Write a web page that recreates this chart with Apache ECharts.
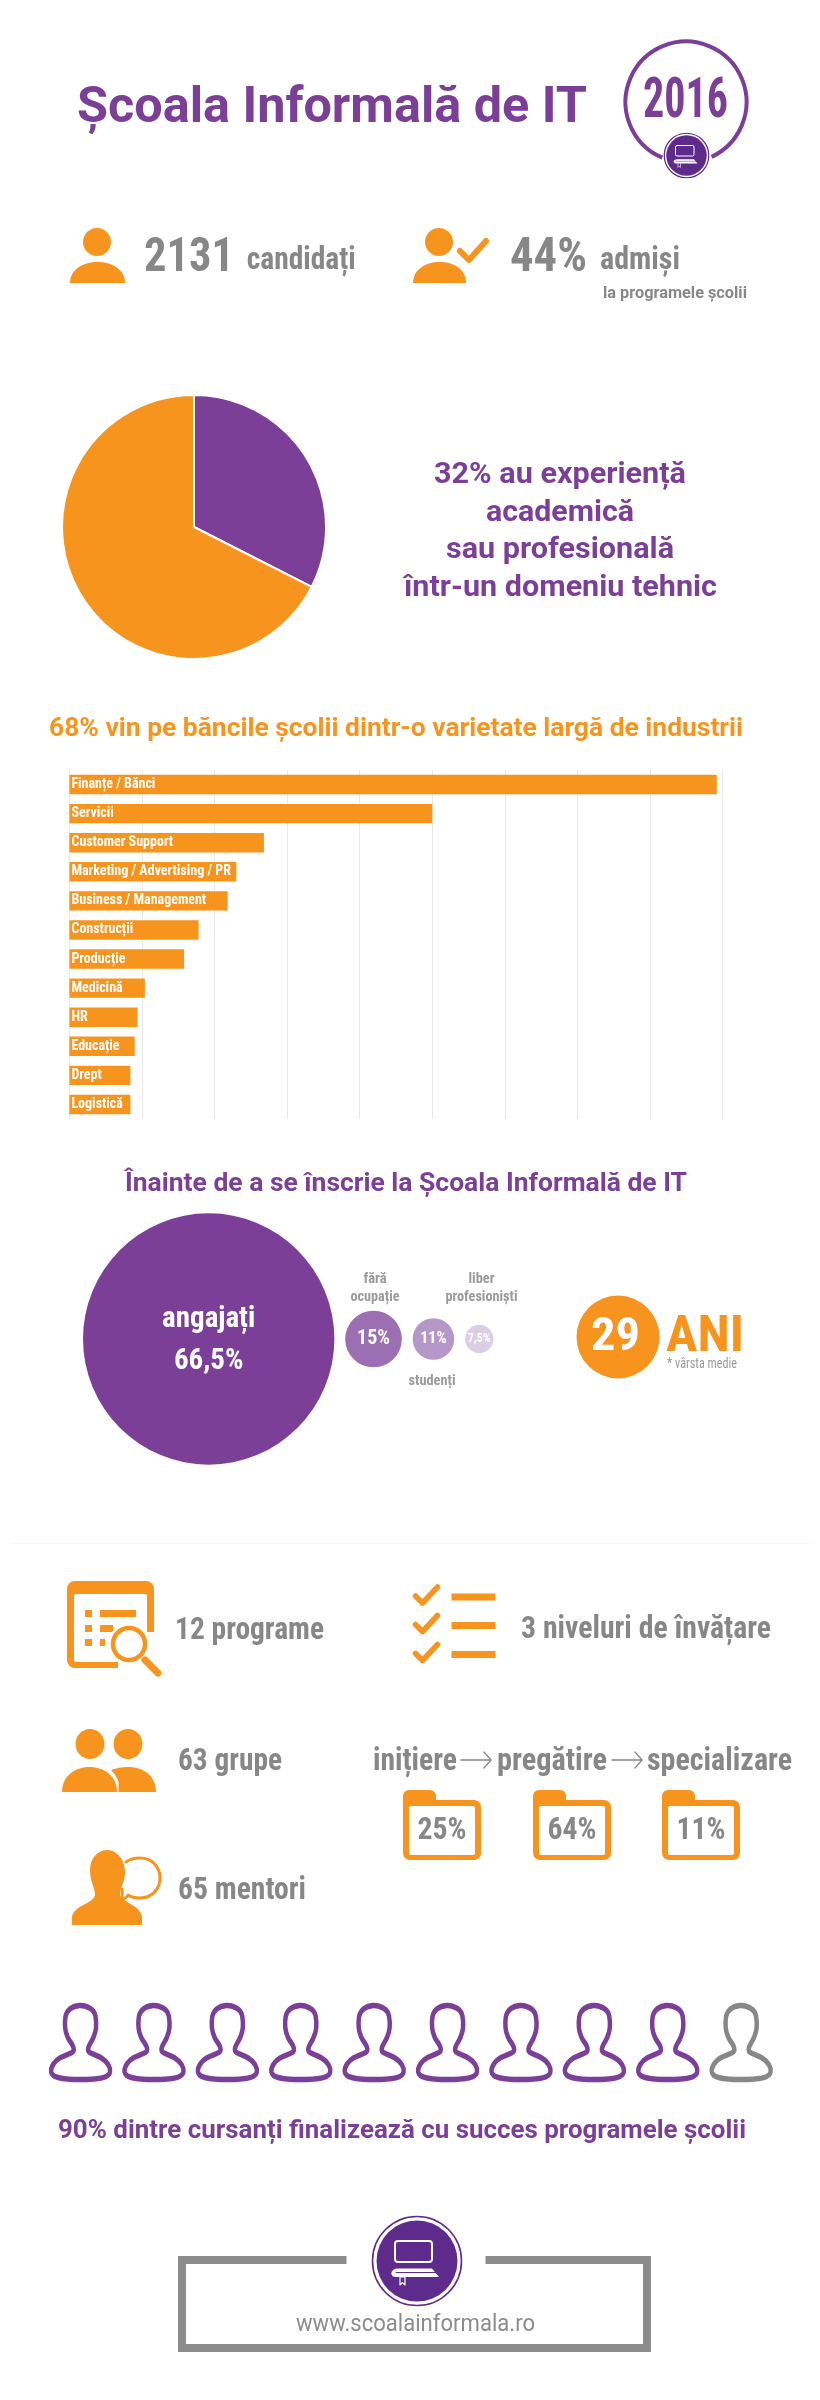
<!DOCTYPE html><html><head><meta charset="utf-8"></head><body style="margin:0;background:#fff"><div id="c" style="width:820px;height:2400px"></div>
<script src="https://cdn.jsdelivr.net/npm/echarts@6/dist/echarts.min.js"></script>
<script>
// ---- data ----
const pieNames = ['experiență tehnică', 'alte industrii'];
const pieValues = [32.5, 67.5];
const industries = ['Finanțe / Bănci','Servicii','Customer Support','Marketing / Advertising / PR','Business / Management','Construcții','Producție','Medicină','HR','Educație','Drept','Logistică'];
const industryValues = [446,250,134,115,109,89,79,52,47,45,42,42];
const statusLabels = ['angajați\n66,5%','15%','11%','7,5%'];
const statusValues = [66.5,15,11,7.5];
const finished = [1,1,1,1,1,1,1,1,1,0];
const stageNames = ['inițiere','pregătire','specializare'];
const stageShares = ['25%','64%','11%'];

// ---- style ----
const ORANGE='#f7941e', PURPLE='#7b3f98', DARK='#5e2a8c', GRAY='#878787', LIGHT='#9a9a9a';
const PERSON='path://M118 47C135 45 165 55 168 78C172 100 172 120 163 140C158 155 146 165 146 178C146 190 165 192 185 203C205 215 214 232 212 245C210 262 180 268 123 268C65 268 38 262 35 245C33 232 45 212 62 203C82 192 103 190 103 178C103 165 90 155 84 140C75 120 75 100 78 80C82 60 100 48 118 47Z';

// ---- text helper: fits a string into the measured width ----
const ctx=document.createElement('canvas').getContext('2d');
function T(text,x,base,w,size,fill,opt){
  opt=opt||{};
  const weight=opt.weight||'bold';
  let best=null;
  (opt.fams||['Roboto Condensed','Roboto']).forEach(f=>{
    const font=weight+' '+size+'px "'+f+'"';
    ctx.font=font;
    const s=w/ctx.measureText(text).width;
    if(!best||Math.abs(Math.log(s))<Math.abs(Math.log(best.s)))best={s,font};
  });
  const left=opt.center?x-w/2:x;
  return {type:'text',x:left,y:base-0.30*size,scaleX:best.s,style:{text,font:best.font,fill,align:'left',verticalAlign:'middle'}};
}
let shapeId=0;
const P=(d,fill,stroke,lw)=>{
  const name='svgShape'+(shapeId++);
  echarts.graphic.registerShape(name,echarts.graphic.extendPath(d,{}));
  return {type:name,style:{fill:fill||null,stroke:stroke||null,lineWidth:lw||0,lineCap:'round',lineJoin:'round'}};
};
const circle=(cx,cy,r,fill,stroke,lw)=>({type:'circle',shape:{cx,cy,r},style:{fill:fill||null,stroke:stroke||null,lineWidth:lw||0}});
const ell=(cx,cy,rx,ry,fill)=>({type:'ellipse',shape:{cx,cy,rx,ry},style:{fill}});
const rect=(x,y,w,h,fill,r)=>({type:'rect',shape:{x,y,width:w,height:h,r:r||0},style:{fill}});

function logo(cx,cy,s){
  return {type:'group',x:cx,y:cy,scaleX:s,scaleY:s,children:[
    circle(0,0,44.5,'#fff',DARK,s<1?2.4:1.6),
    circle(0,0,40.5,DARK),
    {type:'rect',shape:{x:-22,y:-20,width:37,height:21,r:3},style:{fill:null,stroke:'#fff',lineWidth:2}},
    P('M-19 7.5H15L22 16H-21C-28 16 -27 7.5 -19 7.5Z','#fff'),
    P('M-21 11.5H19',null,DARK,1),
    P('M-17 16V24L-14.5 21.5L-12 24V16Z',DARK,'#fff',1.2),
  ]};
}
const g=[];
// header
g.push(T('Școala Informală de IT',77,124,510,50,PURPLE));
g.push({type:'arc',shape:{cx:686,cy:102,r:60.5,startAngle:113*Math.PI/180,endAngle:425*Math.PI/180,clockwise:true},style:{fill:null,stroke:PURPLE,lineWidth:4}});
g.push(T('2016',643,119.5,85,56,PURPLE));
g.push(logo(686.5,155.5,0.5));
// row 2
g.push(ell(97,242,14,14,ORANGE));
g.push(P('M70 283C70 270 82 262 97.5 262C113 262 125 270 125 283Z',ORANGE));
g.push(T('2131',144,273.3,90,48,GRAY));
g.push(T('candidați',246.7,271,109,31,GRAY));
g.push(ell(439,242,14,14,ORANGE));
g.push(P('M413 283C413 270 425 262 439.5 262C455 262 466 270 466 283Z',ORANGE));
g.push(P('M460 251L469 260L486 241',null,ORANGE,6));
g.push(T('44%',510,273.3,77,48,GRAY));
g.push(T('admiși',600,271,80,31,GRAY));
g.push(T('la programele școlii',603,299,144,17,GRAY));
// pie text
g.push(T('32% au experiență',434,484,252,29,PURPLE));
g.push(T('academică',486,522.5,148,29,PURPLE));
g.push(T('sau profesională',446,559,228,29,PURPLE));
g.push(T('într-un domeniu tehnic',404,597.5,313,29,PURPLE));
// section titles
g.push(T('68% vin pe băncile școlii dintr-o varietate largă de industrii',49,737,694,26,ORANGE));
g.push(T('Înainte de a se înscrie la Școala Informală de IT',125,1192,562,25,PURPLE));
// bubble captions
g.push(T('fără',375,1284,23,15,LIGHT,{center:true}));
g.push(T('ocupație',375,1302,49,15,LIGHT,{center:true}));
g.push(T('liber',481.5,1284,26,15,LIGHT,{center:true}));
g.push(T('profesioniști',481.5,1302,72,15,LIGHT,{center:true}));
g.push(T('studenți',432,1386,47,15,LIGHT,{center:true}));
// age
g.push(circle(618,1337,41.5,ORANGE));
g.push(T('29',591,1352,49,46,'#fff'));
g.push(T('ANI',666,1353,78,50,ORANGE));
g.push(T('* vârsta medie',667,1369,70,14,LIGHT,{weight:'normal'}));
// separator
g.push(rect(10,1543,800,1,'#f7f7f7'));
// programs icon
g.push(rect(67,1581,87,87,ORANGE,8));
g.push(rect(74,1594,73,68,'#fff',2));
[1610,1625,1639].forEach((y,i)=>{
  g.push(rect(85,y,7,7,ORANGE));
  g.push(rect(100,y,[36,13,5][i],7,ORANGE));
});
g.push(rect(118,1632,37,38,'#fff'));
g.push(circle(129,1644,21,'#fff'));
g.push(circle(129,1644,16,'#fff',ORANGE,4.5));
g.push(P('M145 1660L158 1673',null,ORANGE,7));
g.push(T('12 programe',175,1641,149,32,GRAY));
// checklist icon
[0,28.5,57.5].forEach(d=>{
  g.push(P(`M415.5 ${1596+d}L422.5 ${1603+d}L437.5 ${1587+d}`,null,ORANGE,5.5));
  g.push(rect(451.5,1593.5+d,44,7,ORANGE));
});
g.push(T('3 niveluri de învățare',521,1640,250,32,GRAY));
// groups
g.push(ell(90,1744,14.5,15,ORANGE));
g.push(ell(128,1744,14.5,15,ORANGE));
g.push(P('M62 1792C62 1776 75 1767 89.5 1767C104 1767 117 1776 117 1792Z',ORANGE));
g.push(P('M118.5 1792V1782C117 1777 114 1773 111 1770C116 1768 122 1767 128 1767C144 1767 156 1776 156 1792Z',ORANGE));
g.push(T('63 grupe',178,1772,104,32,GRAY));
// stages
[[373,84],[497,110],[647,145]].forEach((p,i)=>g.push(T(stageNames[i],p[0],1772,p[1],32,GRAY)));
[461,612].forEach(x=>{g.push(P(`M${x} 1760H${x+30}M${x+23} 1752L${x+30} 1760L${x+23} 1768`,null,GRAY,1.3));});
[403,533,662].forEach((x,i)=>{
  g.push(rect(x,1790,33,24,ORANGE,6));
  g.push(rect(x,1800,78,60,ORANGE,7));
  g.push(rect(x+6,1806,66,49,'#fff',2));
  g.push(T(stageShares[i],x+39,1841,49,32,GRAY,{center:true}));
});
// mentors
g.push(P('M107 1850C117 1850 125 1860 125 1872C125 1882 120 1888 120 1894C120 1902 142 1905 142 1918V1925H72V1918C72 1905 95 1904 95 1894C95 1888 90 1882 90 1870C90 1858 98 1850 107 1850Z',ORANGE));
g.push(P('M126 1862C130 1859 135 1858 140 1858C152 1858 160 1867 160 1878C160 1889 152 1898 140 1898C135 1898 131 1897 128 1895C127 1898 124 1899 121 1900C123 1897 122 1893 122 1889',null,ORANGE,3));
g.push(T('65 mentori',178,1901,128,32,GRAY));
// closing
g.push(T('90% dintre cursanți finalizează cu succes programele școlii',58,2139,688,25,PURPLE));
const frame=P('M346.5 2260H182V2348H647V2260H485.5',null,'#8c8c8c',8);
frame.style.lineCap='butt';frame.style.lineJoin='miter';
g.push(frame);
g.push(logo(417,2261,1));
g.push(T('www.scoalainformala.ro',296,2332,239,24,'#8c8c8c',{weight:'normal',fams:['Roboto']}));

let cursor=83; const GAP=10.8, PER=3.78;
const bubblePos=statusValues.map(v=>{const d=v*PER,c=cursor+d/2;cursor+=d+GAP;return c;});
const bubbleColors=[PURPLE,'#9b6fb1','#b598c7','#dccfe4'];
const bubbleFont=[29,20,16,12];

const chart=echarts.init(document.getElementById('c'),null,{renderer:'canvas'});
chart.setOption({
  animation:false,
  backgroundColor:'#fff',
  grid:[
    {left:69.4,top:770,width:653.2,height:349},
    {left:0,top:1199,width:820,height:280},
    {left:43.9,top:2000,width:734,height:85}
  ],
  xAxis:[
    {gridIndex:0,type:'value',min:0,max:450,interval:50,axisLabel:{show:false},axisLine:{show:false},axisTick:{show:false},splitLine:{lineStyle:{color:'#e8e8e8',width:1}}},
    {gridIndex:1,type:'value',min:0,max:820,show:false},
    {gridIndex:2,type:'category',data:finished.map((_,i)=>String(i+1)),show:false}
  ],
  yAxis:[
    {gridIndex:0,type:'category',inverse:true,data:industries,axisLabel:{show:false},axisLine:{show:false},axisTick:{show:false},splitLine:{show:false}},
    {gridIndex:1,type:'value',min:0,max:1,show:false},
    {gridIndex:2,type:'value',min:0,max:1,show:false}
  ],
  graphic:{elements:g},
  series:[
    {type:'pie',center:[194,527],radius:[0,132],startAngle:90,clockwise:true,label:{show:false},labelLine:{show:false},silent:true,
     itemStyle:{borderColor:'#fff',borderWidth:2},
     data:pieValues.map((v,i)=>({name:pieNames[i],value:v,itemStyle:{color:[PURPLE,ORANGE][i]}}))},
    {type:'bar',xAxisIndex:0,yAxisIndex:0,data:industryValues,barWidth:19.4,silent:true,itemStyle:{color:ORANGE},
     label:{show:true,position:'insideLeft',distance:2,formatter:p=>p.name,color:'#fff',fontFamily:'Roboto Condensed',fontWeight:'bold',fontSize:14}},
    {type:'scatter',xAxisIndex:1,yAxisIndex:1,silent:true,
     data:statusValues.map((v,i)=>({value:[bubblePos[i],0.5],symbolSize:v*PER,itemStyle:{color:bubbleColors[i],opacity:1},
       label:{show:true,position:'inside',offset:[0,i?0:2],formatter:statusLabels[i],color:'#fff',fontFamily:'Roboto Condensed',fontWeight:'bold',fontSize:bubbleFont[i],lineHeight:42}}))},
    {type:'scatter',xAxisIndex:2,yAxisIndex:2,silent:true,symbol:PERSON,symbolSize:[59,74],
     data:finished.map((v,i)=>({value:[i,0.5],itemStyle:{color:'rgba(255,255,255,0)',borderColor:v?PURPLE:GRAY,borderWidth:5,opacity:1}}))}
  ]
});
</script></body></html>
